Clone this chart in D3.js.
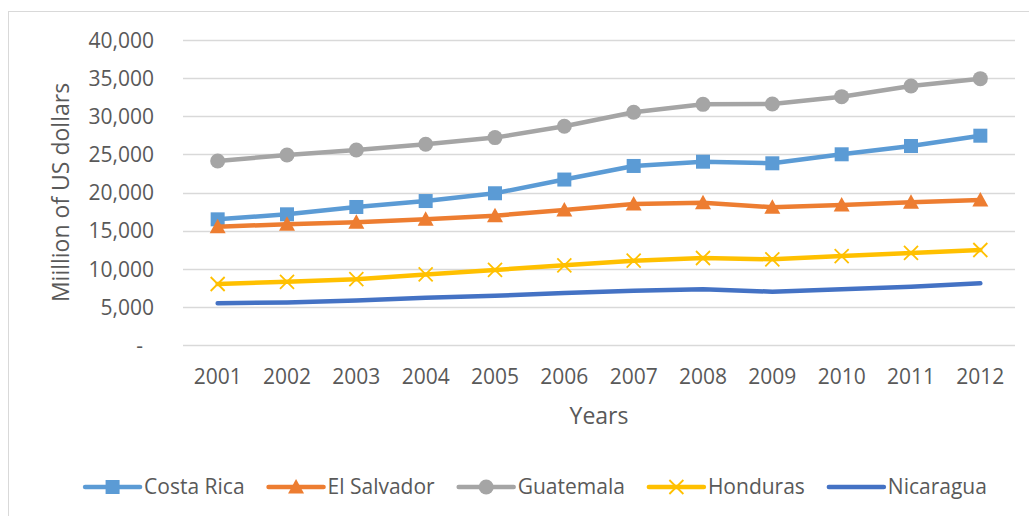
<!DOCTYPE html>
<html>
<head>
<meta charset="utf-8">
<script src="https://cdn.jsdelivr.net/npm/d3@7"></script>
<style>
  html, body { margin: 0; padding: 0; background: #fff; }
  svg { display: block; font-family: "Open Sans", sans-serif; }
</style>
</head>
<body>
<svg id="chart" width="1029" height="516"></svg>
<script>
// GDP series, million US dollars, 2001–2012
const years = ["2001","2002","2003","2004","2005","2006","2007","2008","2009","2010","2011","2012"];
const costaRica  = [16480, 17140, 18100, 18880, 19900, 21700, 23480, 24040, 23830, 25010, 26100, 27450];
const elSalvador = [15520, 15830, 16110, 16480, 16960, 17720, 18490, 18670, 18060, 18360, 18710, 19020];
const guatemala  = [24130, 24920, 25570, 26320, 27200, 28680, 30520, 31560, 31600, 32570, 33970, 34930];
const honduras   = [8000, 8290, 8630, 9250, 9840, 10450, 11060, 11410, 11240, 11670, 12070, 12460];
const nicaragua  = [5470, 5580, 5840, 6200, 6460, 6820, 7120, 7300, 6990, 7300, 7650, 8090];

const seriesNames = ["Costa Rica", "El Salvador", "Guatemala", "Honduras", "Nicaragua"];
const yTickValues = [0, 5000, 10000, 15000, 20000, 25000, 30000, 35000, 40000];
const yTickLabels = ["-", "5,000", "10,000", "15,000", "20,000", "25,000", "30,000", "35,000", "40,000"];
const xTitle = "Years";
const yTitle = "Miillion of US dollars";

const series = [
  { name: seriesNames[0], values: costaRica,  color: "#5B9BD5", marker: "square" },
  { name: seriesNames[1], values: elSalvador, color: "#ED7D31", marker: "triangle" },
  { name: seriesNames[2], values: guatemala,  color: "#A5A5A5", marker: "circle" },
  { name: seriesNames[3], values: honduras,   color: "#FFC000", marker: "x" },
  { name: seriesNames[4], values: nicaragua,  color: "#4472C4", marker: "none" }
];

const svg = d3.select("#chart");
const textColor = "#595959";
const gridColor = "#D9D9D9";

// chart frame
svg.append("rect")
  .attr("x", 8.5).attr("y", 11.5)
  .attr("width", 1100).attr("height", 600)
  .attr("fill", "#fff").attr("stroke", gridColor).attr("stroke-width", 1);

const plot = { left: 183, right: 1015, top: 40, bottom: 345 };

const x = d3.scaleBand().domain(years).range([plot.left, plot.right]).padding(0);
const y = d3.scaleLinear().domain([0, 40000]).range([plot.bottom, plot.top]);
const cx = d => x(d) + x.bandwidth() / 2;

// horizontal gridlines
svg.append("g")
  .selectAll("line")
  .data(yTickValues)
  .join("line")
  .attr("x1", plot.left).attr("x2", plot.right)
  .attr("y1", d => Math.round(y(d)) + 0.5).attr("y2", d => Math.round(y(d)) + 0.5)
  .attr("stroke", gridColor).attr("stroke-width", 1.3);

// y axis labels
const yAxis = svg.append("g")
  .attr("transform", `translate(${plot.left - 29},0)`)
  .call(d3.axisLeft(y).tickValues(yTickValues)
    .tickFormat((d, i) => yTickLabels[i]).tickSize(0).tickPadding(0));
yAxis.select(".domain").remove();
yAxis.selectAll("text")
  .attr("fill", textColor)
  .style("font-size", "21px")
  .style("font-family", "'Open Sans', sans-serif")
  .attr("dy", "0.35em")
  .attr("dx", d => d === 0 ? -11 : 0);

// x axis labels
const xAxis = svg.append("g")
  .attr("transform", `translate(0,${plot.bottom + 24})`)
  .call(d3.axisBottom(x).tickSize(0).tickPadding(0));
xAxis.select(".domain").remove();
xAxis.selectAll("text")
  .attr("fill", textColor)
  .style("font-size", "21px")
  .style("font-family", "'Open Sans', sans-serif")
  .attr("dy", "0.71em");

// axis titles
svg.append("text")
  .attr("x", (plot.left + plot.right) / 2).attr("y", 424)
  .attr("text-anchor", "middle")
  .attr("fill", textColor).style("font-size", "23px")
  .text(xTitle);

svg.append("text")
  .attr("transform", `translate(69,${(plot.top + plot.bottom) / 2}) rotate(-90)`)
  .attr("text-anchor", "middle")
  .attr("fill", textColor).style("font-size", "23px")
  .text(yTitle);

// marker drawing helper
function drawMarker(g, type, color) {
  if (type === "square") {
    g.append("rect").attr("x", -7).attr("y", -7).attr("width", 14).attr("height", 14)
      .attr("fill", color);
  } else if (type === "triangle") {
    g.append("path").attr("d", "M0,-8 L8,6.5 L-8,6.5 Z").attr("fill", color);
  } else if (type === "circle") {
    g.append("circle").attr("r", 7.5).attr("fill", color);
  } else if (type === "x") {
    g.append("path").attr("d", "M-7,-7 L7,7 M-7,7 L7,-7")
      .attr("stroke", color).attr("stroke-width", 1.8).attr("fill", "none");
  }
}

const line = d3.line().x(d => cx(d.year)).y(d => y(d.value));

// series lines and markers
series.forEach(s => {
  const pts = years.map((yr, i) => ({ year: yr, value: s.values[i] }));
  const g = svg.append("g");
  g.append("path")
    .datum(pts)
    .attr("d", line)
    .attr("fill", "none")
    .attr("stroke", s.color)
    .attr("stroke-width", 4.5)
    .attr("stroke-linecap", "round")
    .attr("stroke-linejoin", "round");
  g.selectAll("g.mk")
    .data(pts)
    .join("g")
    .attr("class", "mk")
    .attr("transform", d => `translate(${cx(d.year)},${y(d.value)})`)
    .each(function () { drawMarker(d3.select(this), s.marker, s.color); });
});

// legend
const legend = svg.append("g");
const legendY = 487;
const lineLen = 55, textGap = 4, itemGap = 24;
let cursor = 0;
const items = [];
series.forEach(s => {
  const it = legend.append("g");
  it.append("line")
    .attr("x1", 0).attr("x2", lineLen).attr("y1", 0).attr("y2", 0)
    .attr("stroke", s.color).attr("stroke-width", 4.5).attr("stroke-linecap", "round");
  const mk = it.append("g").attr("transform", `translate(${lineLen / 2},0)`);
  drawMarker(mk, s.marker, s.color);
  const t = it.append("text")
    .attr("x", lineLen + textGap).attr("y", 0).attr("dy", "0.35em")
    .attr("fill", textColor).style("font-size", "21px")
    .text(s.name);
  const w = lineLen + textGap + t.node().getComputedTextLength();
  items.push({ g: it, offset: cursor });
  cursor += w + itemGap;
});
const totalW = cursor - itemGap;
const startX = 536 - totalW / 2;
items.forEach(d => d.g.attr("transform", `translate(${startX + d.offset},${legendY})`));
</script>
</body>
</html>
